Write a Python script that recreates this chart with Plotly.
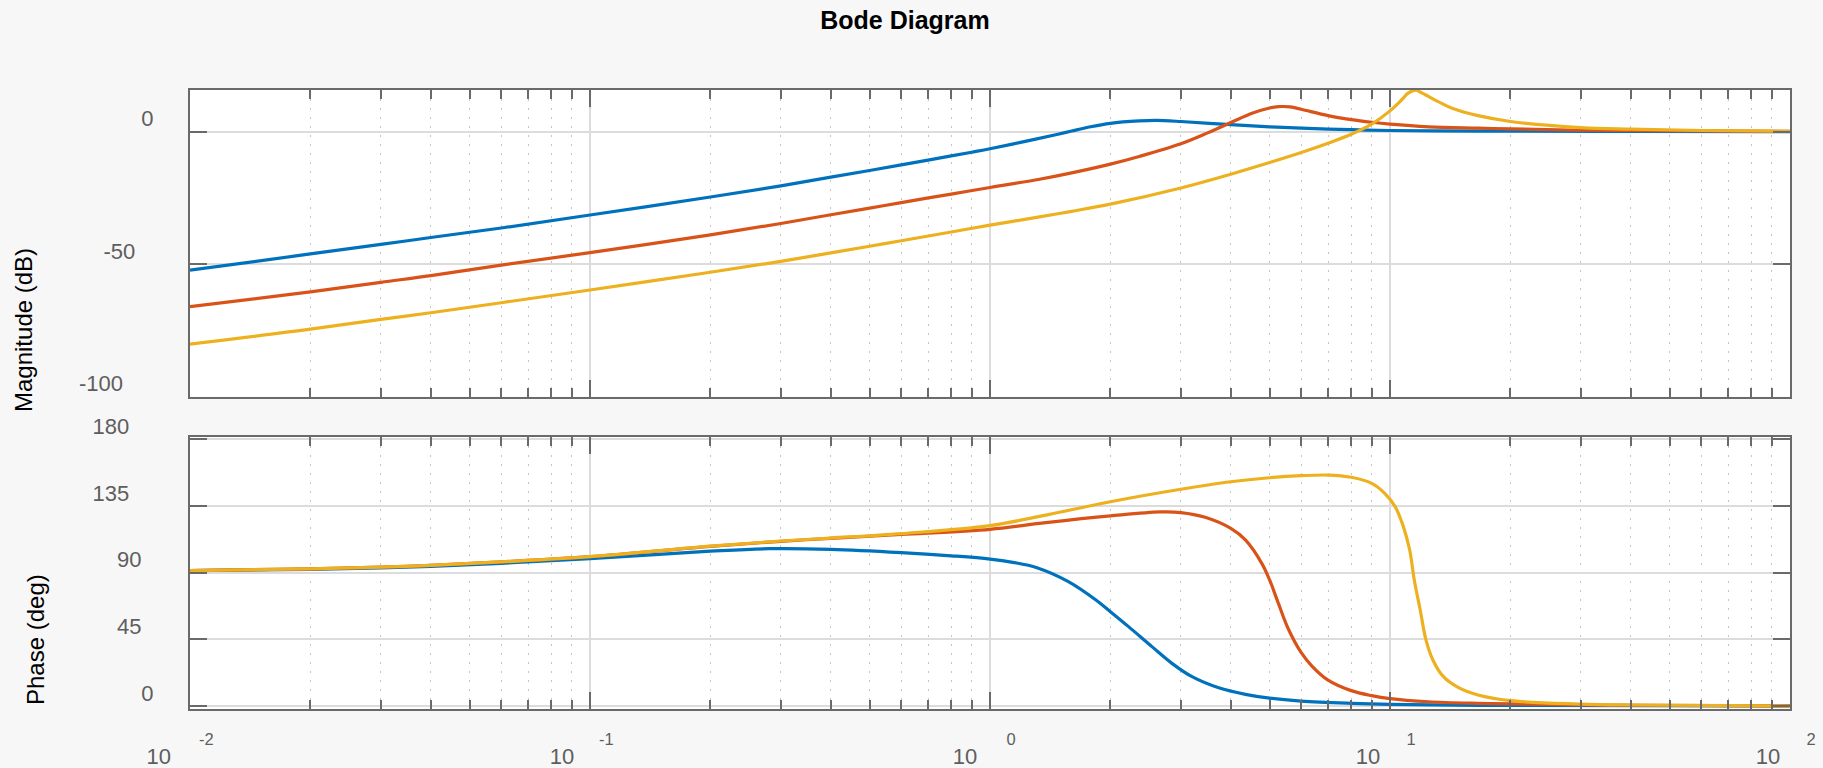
import plotly.graph_objects as go

# ---------------- data ----------------
title_text = "Bode Diagram"
mag_axis_label = "Magnitude (dB)"
phase_axis_label = "Phase (deg)"
series_names = ["Sys 1", "Sys 2", "Sys 3"]

# Magnitude (dB)
freq_mag_blue = [0.01, 0.02, 0.03, 0.04, 0.06, 0.1, 0.2, 0.3, 0.4, 0.5, 0.6, 0.7, 0.8, 0.9, 1.0,
                 1.2, 1.46, 1.6, 1.77, 2.0, 2.36, 2.6, 3.0, 4.0, 5.0, 6.0, 8.0, 10.0, 16.6, 20.0,
                 40.0, 100.0]
mag_blue = [-52.3, -46.2, -42.6, -40.0, -36.4, -31.5, -24.7, -20.5, -17.2, -14.7, -12.6, -10.8,
            -9.2, -7.8, -6.5, -4.0, -1.2, 0.2, 1.7, 3.1, 4.0, 4.2, 3.8, 2.6, 1.8, 1.3, 0.7, 0.4,
            0.2, 0.15, 0.05, 0.0]

freq_mag_orange = [0.01, 0.02, 0.03, 0.04, 0.06, 0.1, 0.2, 0.3, 0.4, 0.5, 0.6, 0.8, 1.0, 1.33,
                   1.6, 2.0, 2.36, 3.0, 3.5, 4.0, 4.52, 5.0, 5.26, 5.63, 6.0, 7.0, 8.0, 9.0, 10.0,
                   12.5, 16.6, 20.0, 30.0, 100.0]
mag_orange = [-66.1, -60.5, -56.9, -54.4, -50.4, -45.7, -39.0, -34.7, -31.4, -28.9, -26.8, -23.6,
              -21.1, -18.0, -15.6, -12.3, -9.4, -4.6, -0.5, 3.4, 6.9, 8.9, 9.4, 9.3, 8.4, 6.0,
              4.5, 3.5, 2.8, 1.8, 1.3, 1.0, 0.5, 0.05]

freq_mag_yellow = [0.01, 0.02, 0.03, 0.04, 0.06, 0.1, 0.2, 0.3, 0.4, 0.5, 0.6, 0.8, 1.0, 1.33,
                   1.6, 2.0, 3.0, 4.0, 5.0, 6.0, 7.0, 8.0, 9.0, 10.0, 10.7, 11.1, 11.6, 12.0,
                   12.5, 13.2, 14.3, 16.6, 20.0, 30.0, 40.0, 60.0, 100.0]
mag_yellow = [-80.2, -74.6, -70.9, -68.4, -64.6, -59.8, -53.1, -49.0, -45.8, -43.3, -41.2, -37.9,
              -35.3, -32.2, -30.1, -27.4, -21.3, -16.1, -11.7, -7.9, -4.4, -1.0, 2.8, 7.8, 12.0,
              14.5, 15.6, 14.6, 13.2, 11.3, 8.8, 6.0, 3.8, 1.5, 0.9, 0.4, 0.1]

# Phase (deg)
freq_ph_blue = [0.01, 0.02, 0.03, 0.04, 0.06, 0.1, 0.2, 0.28, 0.4, 0.6, 0.8, 1.0, 1.14, 1.31,
                1.57, 1.84, 2.0, 2.22, 2.54, 2.85, 3.2, 3.73, 4.35, 5.0, 6.0, 8.0, 10.0, 16.6,
                20.0, 100.0]
ph_blue = [91.4, 92.3, 93.3, 94.3, 96.3, 99.5, 104.5, 106.2, 105.8, 103.6, 101.4, 99.2, 97.0, 93.4,
           84.0, 71.6, 63.7, 53.6, 40.1, 28.8, 19.8, 12.3, 7.9, 5.3, 3.3, 1.8, 1.1, 0.5, 0.4,
           0.05]

freq_ph_orange = [0.01, 0.02, 0.03, 0.04, 0.06, 0.1, 0.2, 0.3, 0.4, 0.6, 1.0, 1.38, 2.0, 2.66,
                  3.0, 3.45, 4.0, 4.35, 4.78, 5.0, 5.26, 5.57, 6.0, 6.38, 7.0, 8.0, 9.0, 10.0,
                  12.5, 16.6, 20.0, 30.0, 100.0]
ph_orange = [91.4, 92.6, 93.7, 95.0, 97.3, 100.8, 107.8, 111.2, 113.2, 115.8, 119.3, 123.8, 128.3,
             131.0, 130.6, 127.4, 119.9, 112.1, 96.3, 85.1, 69.3, 52.0, 36.0, 27.0, 17.5, 10.4,
             7.0, 5.0, 2.9, 1.8, 1.4, 0.7, 0.1]

freq_ph_yellow = [0.01, 0.02, 0.03, 0.04, 0.06, 0.1, 0.2, 0.3, 0.4, 0.6, 1.0, 1.38, 2.0, 3.0,
                  4.0, 5.0, 6.0, 7.0, 8.0, 9.0, 9.7, 10.3, 10.8, 11.2, 11.5, 11.9, 12.3, 12.8,
                  13.6, 14.8, 16.6, 20.0, 30.0, 40.0, 100.0]
ph_yellow = [91.4, 92.6, 93.7, 95.0, 97.3, 100.8, 107.9, 111.4, 113.4, 116.4, 121.8, 128.9, 137.9,
             146.3, 151.4, 154.1, 155.5, 155.9, 154.4, 150.3, 143.6, 134.6, 121.1, 105.3, 85.1,
             64.8, 44.6, 31.1, 19.8, 12.6, 7.4, 3.6, 1.35, 0.7, 0.0]

# Axis ticks
x_major = [0.01, 0.1, 1, 10, 100]
x_base_text = ["10", "10", "10", "10", "10"]
x_exp_text = ["-2", "-1", "0", "1", "2"]
x_minor = [k * 10.0 ** d for d in (-2, -1, 0, 1) for k in range(2, 10)]
mag_ticks = [-100, -50, 0]
mag_tick_text = ["-100", "-50", "0"]
ph_ticks = [0, 45, 90, 135, 180]
ph_tick_text = ["0", "45", "90", "135", "180"]

# ---------------- styling ----------------
W, H = 1823, 768
C_BLUE, C_ORANGE, C_YELLOW = "#0072BD", "#D95319", "#EDB120"
AX_COL = "#6A6A6A"
GRID_COL = "#DCDCDC"
MINOR_GRID = "#C6C6C6"
TICK_FONT_COL = "#5E5E5E"
FONT = "Liberation Sans, Arial, Helvetica, sans-serif"
NB = "\u00a0"

x_dom = [190 / W, 1790 / W]
mag_dom = [(H - 396.5) / H, (H - 89.8) / H]
ph_dom = [(H - 708.7) / H, (H - 436.7) / H]

# pad text with no-break spaces so the labels sit as staggered as in the reference
def pad(texts, counts):
    return [t + NB * n for t, n in zip(texts, counts)]

fig = go.Figure()

def add_line(x, y, color, xa, ya, name):
    fig.add_trace(go.Scatter(x=x, y=y, mode="lines", name=name, showlegend=False,
                             xaxis=xa, yaxis=ya,
                             line=dict(color=color, width=3.2, shape="spline", smoothing=1.0)))

add_line(freq_mag_blue, mag_blue, C_BLUE, "x", "y", series_names[0])
add_line(freq_mag_orange, mag_orange, C_ORANGE, "x", "y", series_names[1])
add_line(freq_mag_yellow, mag_yellow, C_YELLOW, "x", "y", series_names[2])
add_line(freq_ph_blue, ph_blue, C_BLUE, "x2", "y2", series_names[0])
add_line(freq_ph_orange, ph_orange, C_ORANGE, "x2", "y2", series_names[1])
add_line(freq_ph_yellow, ph_yellow, C_YELLOW, "x2", "y2", series_names[2])
# empty helper trace so the exponent axis (x3) is drawn
fig.add_trace(go.Scatter(x=x_major, y=[None] * len(x_major), mode="lines", xaxis="x3",
                         yaxis="y2", showlegend=False, hoverinfo="skip"))

minor_cfg = dict(tickvals=x_minor, ticks="inside", ticklen=9, tickwidth=1.5, tickcolor=AX_COL,
                 showgrid=True, gridcolor=MINOR_GRID, gridwidth=1, griddash="2px,7px")

xcommon = dict(type="log", range=[-2, 2], domain=x_dom, tickmode="array", tickvals=x_major,
               ticks="inside", ticklen=17, tickwidth=1.5, tickcolor=AX_COL,
               showline=True, linecolor=AX_COL, linewidth=2, mirror="ticks",
               showgrid=True, gridcolor=GRID_COL, gridwidth=1.5, zeroline=False,
               automargin=False, minor=minor_cfg)

ycommon = dict(ticks="inside", ticklen=17, tickwidth=1.5, tickcolor=AX_COL,
               showline=True, linecolor=AX_COL, linewidth=2, mirror="ticks",
               showgrid=True, gridcolor=GRID_COL, gridwidth=1.5, zeroline=False,
               automargin=False, tickmode="array", ticklabelshift=-13, ticklabelstandoff=30,
               tickfont=dict(family=FONT, size=22, color=TICK_FONT_COL))

fig.update_layout(
    width=W, height=H, autosize=False,
    margin=dict(l=0, r=0, t=0, b=0, pad=0),
    paper_bgcolor="#F7F7F7", plot_bgcolor="#FFFFFF",
    font=dict(family=FONT, color="#000000"),
    showlegend=False,
    xaxis=dict(**xcommon, anchor="y", showticklabels=False),
    yaxis=dict(**ycommon, domain=mag_dom, range=[-100, 15.76], anchor="x",
               tickvals=mag_ticks, ticktext=pad(mag_tick_text, [5, 3, 0])),
    xaxis2=dict(**xcommon, anchor="y2", showticklabels=True,
                ticktext=pad(x_base_text, [3, 2, 1, 0, 0]),
                ticklabelshift=-22, ticklabelstandoff=27,
                tickfont=dict(family=FONT, size=22, color=TICK_FONT_COL)),
    xaxis3=dict(type="log", range=[-2, 2], overlaying="x2", anchor="y2", side="bottom",
                tickmode="array", tickvals=x_major, ticktext=pad(x_exp_text, [2, 2, 0, 0, 0]),
                ticks="", showline=False, showgrid=False, zeroline=False, automargin=False,
                ticklabelshift=21, ticklabelstandoff=19,
                tickfont=dict(family=FONT, size=16.5, color=TICK_FONT_COL)),
    yaxis2=dict(**ycommon, domain=ph_dom, range=[-1.8, 181.8], anchor="x2",
                tickvals=ph_ticks, ticktext=pad(ph_tick_text, [0, 2, 2, 4, 4])),
    title=dict(text="<b>" + title_text + "</b>", x=905 / W, y=1 - 20 / H,
               xanchor="center", yanchor="middle", automargin=False,
               font=dict(family=FONT, size=25, color="#000000")),
    annotations=[
        dict(text=mag_axis_label, xref="paper", yref="paper", x=23 / W, y=(H - 330) / H,
             xanchor="center", yanchor="middle", textangle=-90, showarrow=False,
             font=dict(family=FONT, size=24, color="#000000")),
        dict(text=phase_axis_label, xref="paper", yref="paper", x=35 / W, y=(H - 640) / H,
             xanchor="center", yanchor="middle", textangle=-90, showarrow=False,
             font=dict(family=FONT, size=24, color="#000000")),
    ],
)

fig.write_html("out.html", config={"displayModeBar": False},
               post_script="document.body.style.margin='0';document.body.style.overflow='hidden';")
